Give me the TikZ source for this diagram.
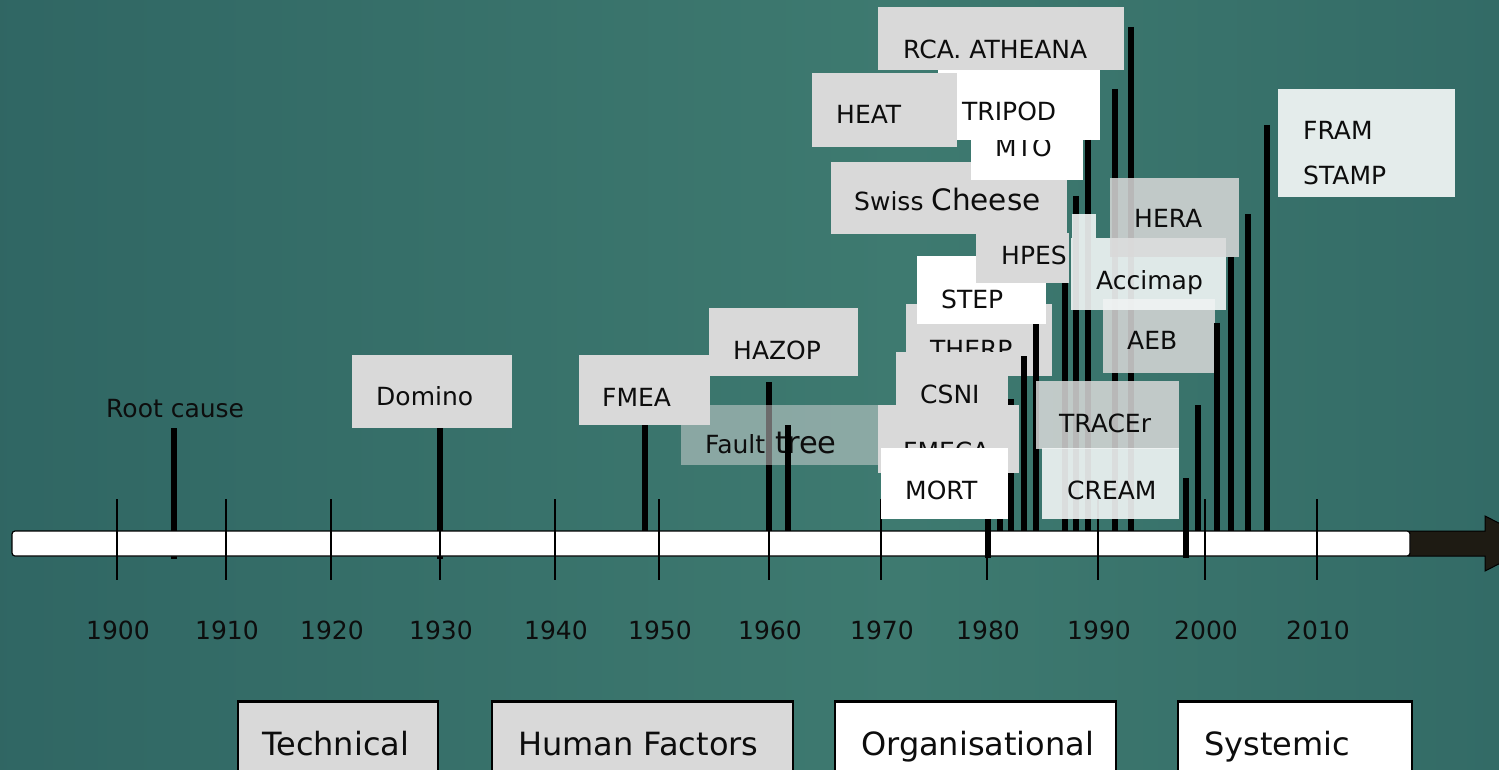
\documentclass[tikz,border=0pt]{standalone}
\usepackage{fontspec}
\setmainfont{DejaVu Sans}
\definecolor{bgL}{HTML}{245659}
\definecolor{bgM}{HTML}{3E7A70}
\definecolor{bgR}{HTML}{25585A}
\definecolor{boxgray}{HTML}{D9D9D9}
\definecolor{paleA}{HTML}{F2F6F6}
\definecolor{ink}{HTML}{0D0D0D}
\definecolor{arrowdark}{HTML}{1E1B13}
\pgfdeclarehorizontalshading{bgshade}{100bp}{color(0bp)=(bgL); color(55bp)=(bgM); color(100bp)=(bgR)}
\begin{document}
\begin{tikzpicture}[x=1pt,y=-1pt,
  lbl/.style={inner sep=0pt, anchor=base west, text=ink, font=\fontsize{25}{30}\selectfont},
  yr/.style={inner sep=0pt, anchor=base, text=ink, font=\fontsize{25}{30}\selectfont},
  catlbl/.style={inner sep=0pt, anchor=base west, text=ink, font=\fontsize{32}{38}\selectfont},
  gbox/.style={fill=boxgray},
  wbox/.style={fill=white},
  gtrans/.style={fill=boxgray, fill opacity=0.85},
  ltrans/.style={fill=paleA, fill opacity=0.9},
  ftrans/.style={fill=boxgray, fill opacity=0.5},
  catbox/.style={draw=black, line width=1.5pt},
  stem/.style={line width=6pt, draw=black},
  tick/.style={line width=1.6pt, draw=black}]
\useasboundingbox (0,0) rectangle (1499,770);
\clip (0,0) rectangle (1499,770);
% background
\shade[shading=bgshade] (0,0) rectangle (1499,770);

% stems that pass under the time axis
\draw[stem] (174,428) -- (174,559);
\draw[stem] (440,428) -- (440,559);

% time axis and arrow
\draw[fill=arrowdark, draw=black, line width=1pt]
  (1408,531) -- (1485,531) -- (1485,516) -- (1539,543.5) -- (1485,571) -- (1485,556) -- (1408,556) -- cycle;
\draw[fill=white, draw=black, line width=1.2pt, rounded corners=3pt] (12,531) rectangle (1410,556);
\draw[stem] (988,519) -- (988,558);
\draw[stem] (1185.5,478) -- (1185.5,558);

% decade ticks and years
\foreach \px/\yy in {117/1900,226/1910,331/1920,440/1930,555/1940,659/1950,769/1960,881/1970,987/1980,1098/1990,1205/2000,1317/2010}{
  \draw[tick] (\px,499) -- (\px,580);
  \node[yr] (y\yy) at (\px+1,639) {\yy};
}

% early methods
\node[lbl] (rootcause) at (106,417) {Root cause};
\fill[gbox] (352,355) rectangle (512,428);
\node[lbl] (domino) at (376,405.5) {Domino};
\fill[gbox] (579,355) rectangle (710,425);
\node[lbl] (fmea) at (602,406) {FMEA};
\fill[gbox] (709,308) rectangle (858,376);
\node[lbl] (hazop) at (733,359) {HAZOP};
\draw[stem] (645,425) -- (645,531);
\draw[stem] (769,382) -- (769,531);
\fill[ftrans] (681,405) rectangle (878,465);
\node[lbl] (faulttree) at (705,453) {Fault\hspace{10pt}{\fontsize{30.5}{34}\selectfont tree}};
\draw[stem] (788,425) -- (788,531);

% upper cluster
\fill[gbox] (831,162) rectangle (1067,234);
\node[lbl] (swiss) at (854,211) {Swiss {\fontsize{29.5}{34}\selectfont Cheese}};
\fill[wbox] (971,110) rectangle (1083,180);
\node[lbl] (mto) at (995,157) {MTO};
\fill[wbox] (938,70) rectangle (1100,140);
\node[lbl] (tripod) at (962,121) {TRIPOD};
\fill[gbox] (812,73) rectangle (957,147);
\node[lbl] (heat) at (836,124) {HEAT};
\fill[gbox] (878,7) rectangle (1124,70);
\node[lbl] (rca) at (903,59) {RCA. ATHEANA};

% middle cluster
\fill[gbox] (906,304) rectangle (1052,376);
\begin{scope}
  \clip (900,300) rectangle (1060,352);
  \node[lbl] (therp) at (930,358) {THERP};
\end{scope}
\fill[wbox] (917,256) rectangle (1046,324);
\node[lbl] (step) at (941,308) {STEP};
\fill[gbox] (976,233) rectangle (1069,283);
\node[lbl] (hpes) at (1001,265) {HPES};
\fill[gbox] (896,352) rectangle (1008,420);
\node[lbl] (csni) at (920,403) {CSNI};
\draw[stem] (1011,399) -- (1011,531);
\fill[gbox] (878,405) rectangle (1019,473);
\node[lbl] (fmeca) at (903,460) {FMECA};
\draw[stem] (999.5,519) -- (999.5,531);
\fill[wbox] (881,448) rectangle (1008,519);
\node[lbl] (mort) at (905,499) {MORT};
\draw[stem] (1024,356) -- (1024,531);
\draw[stem] (1035.5,324) -- (1035.5,531);

% stems seen through the pale boxes
\draw[stem] (1064.5,283) -- (1064.5,531);
\draw[stem] (1076,196) -- (1076,531);
\draw[stem] (1088,140) -- (1088,531);
\draw[stem] (1114.5,89) -- (1114.5,531);
\draw[stem] (1131,27) -- (1131,531);

% right cluster
\fill[gtrans] (1103,299) rectangle (1215,373);
\node[lbl] (aeb) at (1127,349) {AEB};
\fill[ltrans] (1072,214) rectangle (1096,238);
\fill[ltrans] (1071,238) rectangle (1226,310);
\node[lbl] (accimap) at (1096,289) {Accimap};
\fill[gtrans] (1110,178) rectangle (1239,257);
\node[lbl] (hera) at (1134,228) {HERA};
\fill[gtrans] (1036,381) rectangle (1179,449);
\node[lbl] (tracer) at (1059,432) {TRACEr};
\fill[ltrans] (1042,448) rectangle (1179,519);
\node[lbl] (cream) at (1067,499) {CREAM};

% later stems
\draw[stem] (1197.5,405) -- (1197.5,531);
\draw[stem] (1217,323) -- (1217,531);
\draw[stem] (1231,257) -- (1231,531);
\draw[stem] (1248,214) -- (1248,531);
\draw[stem] (1266.5,125) -- (1266.5,531);

\fill[fill=paleA!92!bgM] (1278,89) rectangle (1455,197);
\node[lbl] (fram) at (1303,140) {FRAM};
\node[lbl] (stamp) at (1303,185) {STAMP};

% categories
\filldraw[catbox, fill=boxgray] (238,701) rectangle (438,780);
\draw[line width=3pt] (238,701) -- (438,701);
\node[catlbl] (technical) at (262,755) {Technical};
\filldraw[catbox, fill=boxgray] (492,701) rectangle (793,780);
\draw[line width=3pt] (492,701) -- (793,701);
\node[catlbl] (human) at (518,755) {Human Factors};
\filldraw[catbox, fill=white] (835,701) rectangle (1116,780);
\draw[line width=3pt] (835,701) -- (1116,701);
\node[catlbl] (organisational) at (861,755) {Organisational};
\filldraw[catbox, fill=white] (1178,701) rectangle (1412,780);
\draw[line width=3pt] (1178,701) -- (1412,701);
\node[catlbl] (systemic) at (1204,755) {Systemic};
\end{tikzpicture}
\end{document}
